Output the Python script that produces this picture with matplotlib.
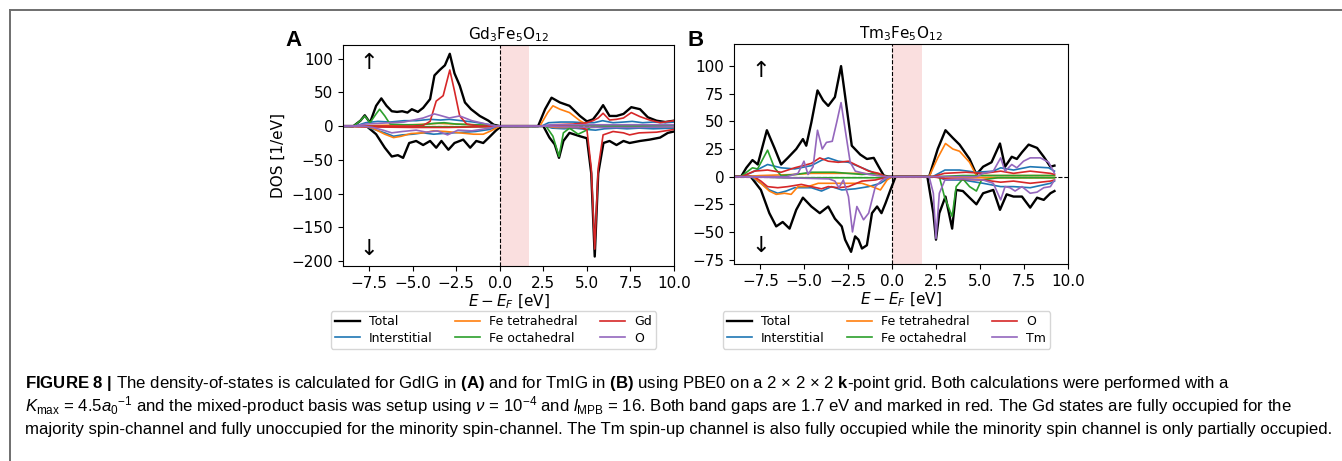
import matplotlib
matplotlib.use("Agg")
import matplotlib.pyplot as plt
from matplotlib.lines import Line2D

plt.rcParams["font.family"] = ["DejaVu Sans"]
plt.rcParams["mathtext.fontset"] = "dejavusans"
plt.rcParams["mathtext.rm"] = "Liberation Sans"
plt.rcParams["mathtext.it"] = "Liberation Sans:italic"
plt.rcParams["mathtext.bf"] = "Liberation Sans:bold"

# ---- Gd3Fe5O12 : (energy [eV], DOS [1/eV]), spin down stored negative ----
gd_total_up = [(-9, 0), (-8.4, 0), (-8.0, 8), (-7.75, 16), (-7.45, 5), (-7.1, 30), (-6.8, 41), (-6.5, 30),
               (-6.2, 22), (-5.9, 21), (-5.6, 22), (-5.3, 20), (-5.05, 25), (-4.7, 21), (-4.4, 27), (-4.0, 40),
               (-3.75, 75), (-3.45, 83), (-3.15, 90), (-2.87, 107), (-2.6, 78), (-2.3, 60), (-2.0, 35),
               (-1.65, 25), (-1.15, 15), (-0.65, 8), (-0.35, 2), (0.0, 0), (2.2, 0), (2.6, 25), (2.97, 42),
               (3.45, 35), (4.0, 30), (4.6, 15), (5.0, 7), (5.35, 10), (5.65, 20), (5.93, 31), (6.3, 15),
               (6.7, 15), (7.1, 18), (7.55, 28), (8.05, 25), (8.5, 13), (9.0, 8), (9.5, 6), (10.0, 8)]
gd_total_dn = [(-9, 0), (-7.65, 0), (-7.1, -12), (-6.6, -32), (-6.2, -45), (-5.85, -43), (-5.55, -47),
               (-5.2, -25), (-4.8, -22), (-4.4, -28), (-4.0, -22), (-3.65, -32), (-3.35, -22), (-2.95, -35),
               (-2.6, -25), (-2.1, -20), (-1.7, -32), (-1.35, -22), (-0.95, -25), (-0.55, -15), (-0.2, -6),
               (0.1, 0), (2.5, 0), (2.85, -17), (3.15, -27), (3.4, -47), (3.65, -22), (4.0, -10), (4.6, -15),
               (5.0, -18), (5.25, -70), (5.45, -193), (5.65, -70), (5.95, -25), (6.3, -22), (6.7, -28),
               (7.1, -22), (7.45, -25), (8.05, -22), (8.6, -20), (9.2, -17), (9.65, -10), (10.0, -8)]
gd_inter_up = [(-9, 0), (-8.3, 0), (-7.7, 5), (-7.0, 7), (-6.3, 6), (-5.5, 8), (-4.8, 8), (-4.0, 10),
               (-3.4, 9), (-2.9, 10), (-2.2, 8), (-1.5, 6), (-0.8, 3), (-0.1, 0), (2.4, 0), (2.8, 5), (3.5, 6),
               (4.2, 6), (4.8, 5), (5.4, 5), (5.9, 8), (6.5, 5), (7.1, 6), (7.6, 7), (8.2, 5), (8.8, 6),
               (9.5, 5), (10, 6)]
gd_inter_dn = [(-9, 0), (-7.8, 0), (-7.2, -5), (-6.6, -10), (-6.1, -15), (-5.6, -13), (-5.0, -12),
               (-4.4, -10), (-3.8, -12), (-3.3, -11), (-2.7, -10), (-2.0, -9), (-1.4, -8), (-0.6, -5),
               (0.0, 0), (2.6, 0), (3.0, -3), (3.7, -4), (4.3, -3), (5.0, -5), (5.5, -6), (6.0, -4),
               (6.7, -3), (7.3, -4), (8.0, -3), (8.8, -4), (10, -3)]
gd_fetet_up = [(-9, 0), (-8, 0), (-7, 1), (-5, 2), (-4.2, 3), (-3.5, 4), (-2.5, 3), (-1.5, 2), (-0.5, 1),
               (0, 0), (2.3, 0), (2.75, 20), (3.05, 30), (3.45, 25), (4.0, 20), (4.6, 8), (5.0, 2), (6, 1),
               (8, 1), (10, 1)]
gd_fetet_dn = [(-9, 0), (-7.8, 0), (-7.3, -3), (-6.6, -12), (-6.1, -17), (-5.65, -15), (-5.1, -11),
               (-4.4, -10), (-3.8, -7), (-3.1, -8), (-2.3, -10), (-1.5, -12), (-0.95, -12), (-0.5, -7),
               (0, 0), (2.6, 0), (3.2, -2), (4.5, -2), (6, -1), (8, -1), (10, -1)]
gd_feoct_up = [(-9, 0), (-8.4, 0), (-8.0, 8), (-7.75, 15), (-7.45, 5), (-7.1, 18), (-6.9, 25), (-6.6, 15),
               (-6.3, 3), (-5.5, 2), (-4.5, 2), (-3.8, 4), (-3.2, 5), (-2.5, 3), (-1.5, 2), (-0.5, 1),
               (0, 0), (2.5, 0), (4, 1), (6, 1), (8, 1), (10, 1)]
gd_feoct_dn = [(-9, 0), (-8, 0), (-6, -1), (-3, -1), (-0.5, -1), (0, 0), (2.65, 0), (3.05, -15),
               (3.4, -45), (3.65, -10), (4.0, -3), (4.5, -12), (4.9, -7), (5.2, -2), (6, -1), (8, -1),
               (10, -1)]
gd_gd_up = [(-9, 0), (-5, 0), (-4.4, 1), (-4.0, 7), (-3.65, 37), (-3.25, 45), (-2.87, 83), (-2.6, 52),
            (-2.3, 15), (-1.9, 3), (-1.2, 0), (0, 0), (2.5, 0), (3.1, 2), (4.2, 3), (5.0, 5), (5.35, 8),
            (5.65, 12), (5.93, 19), (6.3, 9), (6.7, 10), (7.1, 12), (7.55, 20), (8.05, 14), (8.6, 9),
            (9.2, 5), (10, 8)]
gd_gd_dn = [(-9, 0), (-8, -1), (-5, -2), (-3, -2), (-1, -1), (0, 0), (4, 0), (4.6, -2), (5.0, -5),
            (5.25, -62), (5.45, -182), (5.65, -62), (5.93, -13), (6.5, -8), (7.1, -10), (7.45, -13),
            (8.0, -10), (9.0, -9), (10, -5)]
gd_o_up = [(-9, 0), (-8.4, 0), (-7.7, 3), (-6.3, 5), (-5.5, 6), (-4.4, 12), (-3.75, 18), (-3.45, 16),
           (-2.9, 12), (-2.3, 15), (-1.6, 8), (-0.6, 2), (-0.2, 0), (2.3, 0), (3.0, 2), (5, 2), (7, 2),
           (10, 2)]
gd_o_dn = [(-9, 0), (-7.8, 0), (-7.3, -2), (-6.7, -6), (-6.2, -10), (-5.6, -8), (-4.8, -6), (-4.2, -9),
           (-3.6, -7), (-3.0, -13), (-2.4, -6), (-1.6, -7), (-0.6, -3), (-0.1, 0), (2.5, 0), (3.5, -1),
           (6, -2), (8, -2), (10, -1)]

# ---- Tm3Fe5O12 ----
tm_total_up = [(-9, 0), (-8.6, 0), (-8.3, 8), (-7.95, 15), (-7.65, 11), (-7.13, 42), (-6.7, 26),
               (-6.32, 11), (-5.94, 17), (-5.46, 25), (-5.08, 34), (-4.89, 28), (-4.6, 49), (-4.25, 78),
               (-3.93, 69), (-3.64, 64), (-3.26, 72), (-2.91, 100), (-2.68, 73), (-2.3, 28), (-1.82, 20),
               (-1.44, 16), (-1.05, 17), (-0.77, 9), (-0.48, 1), (-0.2, 0), (2.1, 0), (2.59, 25),
               (3.03, 42), (3.45, 35), (3.83, 29), (4.4, 16), (4.79, 2), (5.17, 9), (5.65, 13), (6.13, 30),
               (6.42, 9), (6.8, 18), (7.09, 16), (7.38, 22), (7.76, 29), (8.24, 26), (8.62, 18), (9.0, 9),
               (9.23, 10)]
tm_total_dn = [(-9, 0), (-8.05, 0), (-7.47, -12), (-6.99, -33), (-6.6, -45), (-6.23, -41), (-5.84, -47),
               (-5.46, -30), (-5.08, -19), (-4.6, -27), (-4.12, -33), (-3.64, -27), (-3.26, -38),
               (-2.87, -45), (-2.68, -57), (-2.34, -68), (-2.11, -54), (-1.92, -57), (-1.72, -65),
               (-1.44, -62), (-1.15, -33), (-0.86, -27), (-0.61, -33), (-0.38, -24), (-0.1, -12),
               (0.19, 0), (2.0, 0), (2.34, -33), (2.49, -57), (2.68, -33), (3.03, -18), (3.41, -47),
               (3.64, -12), (4.02, -13), (4.4, -19), (4.79, -25), (5.17, -15), (5.75, -12), (6.13, -30),
               (6.51, -16), (6.9, -18), (7.38, -18), (7.85, -28), (8.24, -19), (8.62, -21), (9.0, -15),
               (9.23, -13)]
tm_inter_up = [(-9, 0), (-8.62, 0), (-7.95, 4), (-7.09, 11), (-6.32, 8), (-5.55, 7), (-4.6, 10),
               (-4.0, 15), (-3.64, 17), (-3.07, 14), (-2.49, 13), (-1.72, 8), (-0.96, 3), (-0.38, 0),
               (2.3, 0), (3.0, 6), (3.83, 6), (4.79, 4), (5.75, 5), (6.17, 8), (6.9, 6), (7.85, 9),
               (8.9, 8), (9.23, 5)]
tm_inter_dn = [(-9, 0), (-8.05, 0), (-7.47, -6), (-6.99, -12), (-6.51, -15), (-6.03, -13), (-5.55, -10),
               (-4.6, -10), (-4.02, -13), (-3.45, -9), (-2.87, -12), (-2.11, -11), (-1.34, -9),
               (-0.67, -6), (-0.19, -1), (0.1, 0), (2.49, 0), (3.07, -3), (4.02, -3), (5.17, -6),
               (6.17, -9), (6.9, -9), (7.85, -10), (9.0, -6), (9.23, -4)]
tm_fetet_up = [(-9, 0), (-8.5, 0), (-7.5, 1), (-5.5, 2), (-4.6, 3), (-3.0, 3), (-1.7, 3), (-0.8, 2),
               (-0.3, 0), (2.1, 0), (2.59, 17), (3.03, 30), (3.45, 25), (3.83, 23), (4.4, 13), (4.79, 1),
               (6, 1), (8, 1), (9.23, 1)]
tm_fetet_dn = [(-9, 0), (-7.95, 0), (-7.47, -6), (-6.99, -13), (-6.6, -16), (-6.13, -15), (-5.75, -16),
               (-5.36, -9), (-4.79, -9), (-4.21, -6), (-2.5, -6), (-1.72, -6), (-1.15, -9), (-0.67, -12),
               (-0.29, -3), (0, 0), (2.5, 0), (4, -1), (6, -1), (9.23, -1)]
tm_feoct_up = [(-9, 0), (-8.62, 0), (-7.95, 8), (-7.66, 7), (-7.09, 24), (-6.7, 8), (-6.32, 1),
               (-5.5, 2), (-4.6, 4), (-3.3, 4), (-1.72, 2), (-0.86, 3), (-0.38, 0), (2.5, 0), (4, 1),
               (6, 1), (8, 1), (9.23, 1)]
tm_feoct_dn = [(-9, 0), (-8, 0), (-6, -1), (-3, -1), (-0.5, -1), (0, 0), (2.68, 0), (2.97, -18),
               (3.41, -36), (3.64, -9), (4.02, -2), (4.4, -9), (4.79, -13), (5.08, -3), (6, -1), (8, -1),
               (9.23, -1)]
tm_o_up = [(-9, 0), (-8.55, 0), (-7.86, 5), (-7.09, 6), (-6.32, 4), (-5.55, 8), (-4.6, 12), (-4.12, 17),
           (-3.64, 14), (-3.07, 13), (-2.49, 14), (-2.11, 11), (-1.34, 5), (-0.77, 3), (-0.38, 0),
           (2.3, 0), (2.97, 3), (4.2, 4), (5.17, 3), (6.17, 5), (6.9, 3), (7.85, 5), (9.0, 3), (9.23, 2)]
tm_o_dn = [(-9, 0), (-7.86, 0), (-7.47, -4), (-7.09, -9), (-6.51, -10), (-5.94, -9), (-5.17, -7),
           (-4.6, -9), (-4.02, -11), (-3.64, -9), (-3.07, -10), (-2.49, -9), (-1.72, -4), (-0.96, -3),
           (-0.19, 0), (2.3, 0), (3.07, -2), (5.17, -3), (6.17, -5), (6.9, -4), (7.85, -6), (9.0, -4),
           (9.23, -3)]
tm_tm_up = [(-9, 0), (-6, 0), (-5.36, 3), (-5.02, 14), (-4.79, 2), (-4.5, 9), (-4.25, 42), (-3.98, 25),
            (-3.74, 31), (-3.41, 32), (-3.16, 49), (-2.91, 67), (-2.68, 43), (-2.39, 13), (-2.1, 5),
            (-1.34, 2), (-0.38, 0), (4.79, 0), (5.17, 3), (5.75, 5), (6.17, 17), (6.42, 5), (6.8, 11),
            (7.09, 8), (7.47, 14), (7.85, 17), (8.43, 17), (8.9, 13), (9.23, 3)]
tm_tm_dn = [(-9, 0), (-6, -1), (-3.6, -2), (-3.26, -4), (-3.03, -10), (-2.78, -3), (-2.49, -18),
            (-2.26, -50), (-2.01, -27), (-1.82, -33), (-1.63, -39), (-1.34, -33), (-0.96, -9),
            (-0.57, -3), (-0.1, 0), (2.1, 0), (2.34, -15), (2.49, -56), (2.68, -15), (3.0, -3),
            (4.0, -2), (5.17, -3), (5.75, -6), (6.17, -21), (6.42, -9), (6.7, -10), (6.99, -13),
            (7.38, -9), (7.85, -15), (8.24, -14), (8.62, -10), (9.0, -9), (9.23, -3)]

gd_labels = ["Total", "Interstitial", "Fe tetrahedral", "Fe octahedral", "Gd", "O"]
tm_labels = ["Total", "Interstitial", "Fe tetrahedral", "Fe octahedral", "O", "Tm"]
gap = 1.7

colors = ["black", "C0", "C1", "C2", "C3", "C4"]
widths = [1.7, 1.2, 1.2, 1.2, 1.2, 1.2]


def draw_panel(ax, curves, labels, title, ylim, yticks, up_y, dn_y):
    handles = []
    for (up, dn), lab, c, lw in zip(curves, labels, colors, widths):
        h, = ax.plot([p[0] for p in up], [p[1] for p in up], color=c, lw=lw, label=lab)
        ax.plot([p[0] for p in dn], [p[1] for p in dn], color=c, lw=lw)
        handles.append(h)
    ax.axvspan(0, gap, color="#f7c6c6", alpha=0.55, lw=0)
    ax.axvline(0, color="black", ls="--", lw=0.8)
    ax.axhline(0, color="black", ls="--", lw=0.8, zorder=0.5)
    ax.set_xlim(-9.0, 10.0)
    ax.set_ylim(*ylim)
    ax.set_xticks([-7.5, -5.0, -2.5, 0.0, 2.5, 5.0, 7.5, 10.0])
    ax.set_yticks(yticks)
    ax.tick_params(labelsize=11)
    ax.set_xlabel(r"$E - E_F$ [eV]", fontsize=11, labelpad=1)
    ax.set_title(title, fontsize=11, pad=4)
    ax.text(-7.5, up_y, "\u2191", fontsize=16, ha="center", va="center")
    ax.text(-7.5, dn_y, "\u2193", fontsize=16, ha="center", va="center")
    return handles


fig = plt.figure(figsize=(13.42, 4.61), dpi=100)

ax_a = fig.add_axes([343 / 1342, 195 / 461, 331 / 1342, 221 / 461])
ax_b = fig.add_axes([734 / 1342, 197 / 461, 334 / 1342, 220 / 461])

h_a = draw_panel(ax_a,
                 [(gd_total_up, gd_total_dn), (gd_inter_up, gd_inter_dn), (gd_fetet_up, gd_fetet_dn),
                  (gd_feoct_up, gd_feoct_dn), (gd_gd_up, gd_gd_dn), (gd_o_up, gd_o_dn)],
                 gd_labels, r"Gd$_3$Fe$_5$O$_{12}$", (-207, 120), [-200, -150, -100, -50, 0, 50, 100],
                 93, -182)
ax_a.set_ylabel("DOS [1/eV]", fontsize=11)

h_b = draw_panel(ax_b,
                 [(tm_total_up, tm_total_dn), (tm_inter_up, tm_inter_dn), (tm_fetet_up, tm_fetet_dn),
                  (tm_feoct_up, tm_feoct_dn), (tm_o_up, tm_o_dn), (tm_tm_up, tm_tm_dn)],
                 tm_labels, r"Tm$_3$Fe$_5$O$_{12}$", (-79, 120), [-75, -50, -25, 0, 25, 50, 75, 100],
                 96, -63)

for hs, labs, xc in [(h_a, gd_labels, 493.5), (h_b, tm_labels, 886.5)]:
    fig.legend(hs, labs, ncol=3, loc="upper center", bbox_to_anchor=(xc / 1342, 1 - 311 / 461),
               borderaxespad=0, fontsize=9, columnspacing=1.8, handlelength=2.0, handletextpad=0.7,
               borderpad=0.35, labelspacing=0.25)

fig.text(294 / 1342, 1 - 40 / 461, "A", fontsize=16, fontweight="bold", family="Liberation Sans",
         ha="center", va="center")
fig.text(696 / 1342, 1 - 40 / 461, "B", fontsize=16, fontweight="bold", family="Liberation Sans",
         ha="center", va="center")

# frame lines of the figure box
fig.add_artist(Line2D([9.5 / 1342, 1.0], [1 - 10.5 / 461] * 2, transform=fig.transFigure,
                      color="#6e6e6e", lw=1.4))
fig.add_artist(Line2D([9.5 / 1342] * 2, [0.0, 1 - 10.5 / 461], transform=fig.transFigure,
                      color="#6e6e6e", lw=1.4))

caption = [
    r"$\mathbf{FIGURE\ 8\ |}$ The density-of-states is calculated for GdIG in $\mathbf{(A)}$ and for TmIG in "
    r"$\mathbf{(B)}$ using PBE0 on a 2 × 2 × 2 $\mathbf{k}$-point grid. Both calculations were performed with a",
    r"$K_{\mathrm{max}}$ = 4.5$a_0{}^{-1}$ and the mixed-product basis was setup using $\nu$ = 10$^{-4}$ and "
    r"$l_{\mathrm{MPB}}$ = 16. Both band gaps are 1.7 eV and marked in red. The Gd states are fully occupied for the",
    "majority spin-channel and fully unoccupied for the minority spin-channel. The Tm spin-up channel is "
    "also fully occupied while the minority spin channel is only partially occupied.",
]
for line, yc in zip(caption, [383, 406, 429]):
    fig.text(25 / 1342, 1 - yc / 461, line, fontsize=12.1, family="Liberation Sans",
             math_fontfamily="custom", ha="left", va="center")

fig.savefig("out.png", dpi=100)
